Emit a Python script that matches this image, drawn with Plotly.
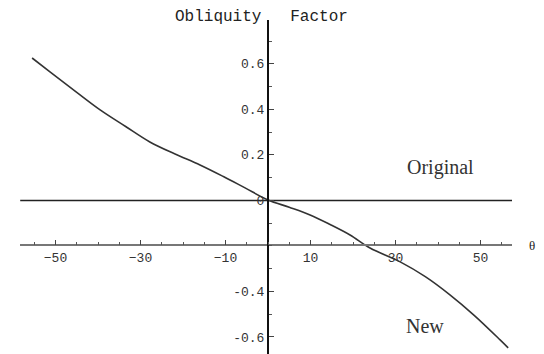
import plotly.graph_objects as go

# curve (angle, factor)
theta = [-55.5, -51.3, -45.0, -39.5, -33.5, -27.8, -22.0, -16.0, -10.5, -5.4, 0.0,
         5.0, 9.9, 14.5, 19.3, 24.0, 31.1, 37.0, 42.8, 48.5, 54.6, 56.5]
new_factor = [0.626, 0.565, 0.475, 0.398, 0.325, 0.257, 0.205, 0.156, 0.105, 0.055, 0.002,
              -0.030, -0.064, -0.105, -0.152, -0.209, -0.270, -0.335, -0.415, -0.505, -0.613, -0.648]
orig_x = [-58.3, 57.4]
orig_y = [0.0, 0.0]

x_ticks = [-50, -30, -10, 10, 30, 50]
y_ticks = [0.6, 0.4, 0.2, 0.0, -0.4, -0.6]
y_tick_text = ["0.6", "0.4", "0.2", "0", "-0.4", "-0.6"]

serif = "Liberation Serif, Times New Roman, serif"
mono = "Liberation Mono, DejaVu Sans Mono, monospace"

fig = go.Figure()
fig.add_trace(go.Scatter(x=orig_x, y=orig_y, mode="lines",
                         line=dict(color="#222", width=1.5), showlegend=False))
fig.add_trace(go.Scatter(x=theta, y=new_factor, mode="lines", line_shape="spline",
                         line=dict(color="#333", width=1.6), showlegend=False))

# page body has an 8px margin, so margins are shifted to compensate
fig.update_layout(
    width=544, height=354,
    margin=dict(l=12, r=40, t=12, b=8),
    paper_bgcolor="white", plot_bgcolor="white",
    font=dict(family=mono, color="#333", size=13),
    xaxis=dict(range=[-58.35, 57.4], showgrid=False, zeroline=False,
               showline=True, linecolor="#777", linewidth=1.5,
               anchor="free", position=0.325,
               tickvals=x_ticks, ticks="inside", ticklen=5, tickcolor="#444",
               tickfont=dict(family=mono, size=13, color="#333"),
               minor=dict(dtick=5, ticks="inside", ticklen=3, tickcolor="#555")),
    yaxis=dict(range=[-0.675, 0.793], showgrid=False, zeroline=False,
               showline=True, linecolor="#111", linewidth=2,
               anchor="free", position=0.504,
               tickvals=y_ticks, ticktext=y_tick_text,
               ticks="inside", ticklen=5, tickcolor="#444",
               tickfont=dict(family=mono, size=13, color="#333"),
               minor=dict(dtick=0.1, ticks="inside", ticklen=3, tickcolor="#555")),
    annotations=[
        dict(text="Obliquity&nbsp;&nbsp;&nbsp;Factor", x=0.49, y=1.01,
             xref="paper", yref="paper", showarrow=False,
             font=dict(family=mono, size=16, color="#222"),
             xanchor="center", yanchor="middle"),
        dict(text="Original", x=40.5, y=0.143, xref="x", yref="y", showarrow=False,
             font=dict(family=serif, size=20, color="#333"), xanchor="center", yanchor="middle"),
        dict(text="New", x=37, y=-0.552, xref="x", yref="y", showarrow=False,
             font=dict(family=serif, size=20, color="#333"), xanchor="center", yanchor="middle"),
        dict(text="θ", x=1.04, y=0.325, xref="paper", yref="paper", showarrow=False,
             font=dict(family=serif, size=13, color="#222"), xanchor="center", yanchor="middle"),
    ],
)

fig.write_html("out.html")
